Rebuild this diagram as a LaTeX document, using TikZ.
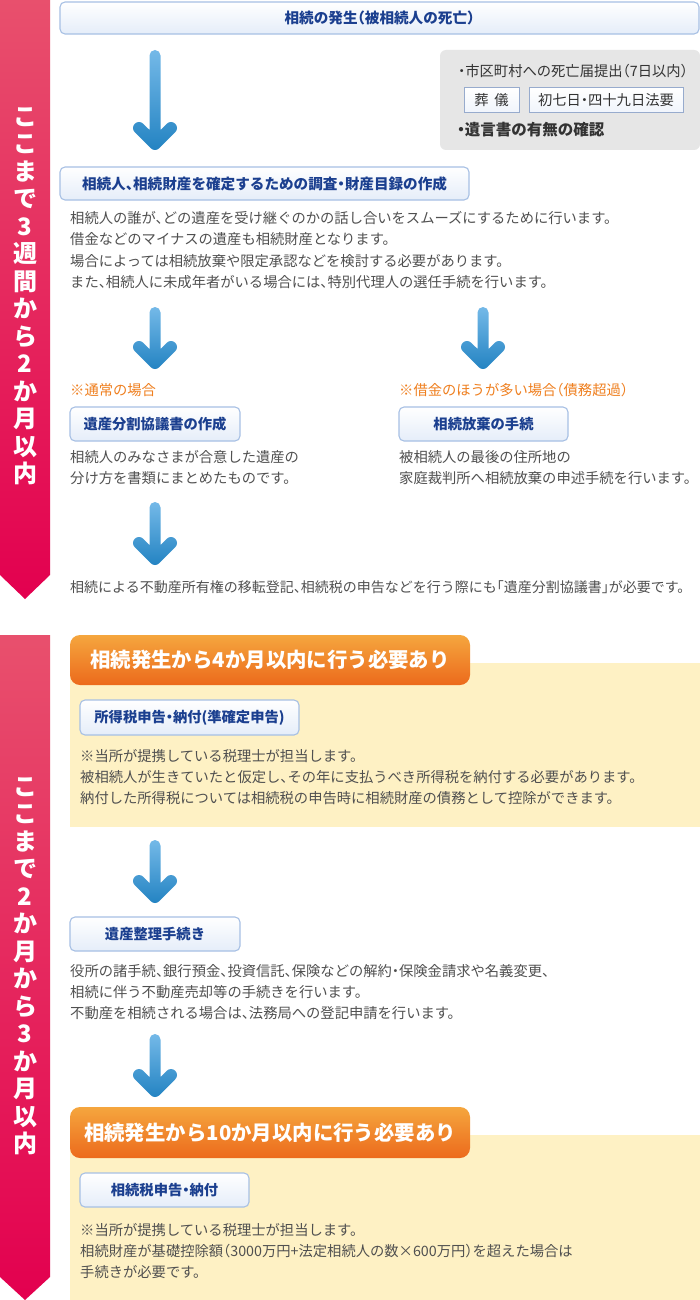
\documentclass[tikz,border=0pt]{standalone}
\usepackage{fontspec}
\setmainfont{Noto Sans CJK JP}[RawFeature=+halt]
\definecolor{bodygray}{HTML}{505050}
\definecolor{titleblue}{HTML}{1B3F8F}
\definecolor{boxborder}{HTML}{A7C0E4}
\definecolor{boxbottom}{HTML}{E5EDF9}
\definecolor{notegray}{HTML}{E6E6E6}
\definecolor{smallborder}{HTML}{97ABCD}
\definecolor{darktext}{HTML}{333333}
\definecolor{noteorange}{HTML}{EF7F1F}
\definecolor{hdrtop}{HTML}{F5A63E}
\definecolor{hdrbot}{HTML}{EC6A1C}
\definecolor{panelyellow}{HTML}{FEF1C4}
\definecolor{bantop}{HTML}{E8506D}
\definecolor{banbot}{HTML}{E3004F}
\definecolor{arrtop}{HTML}{74B9E8}
\definecolor{arrbot}{HTML}{2383C2}
\newcommand\bluearrow[3]{%
  \path[top color=arrtop,bottom color=arrbot]
    ({#1-5.5},{#2+5.5}) arc[start angle=180,end angle=360,radius=5.5]
    -- ({#1+5.5},{#3-20}) -- ({#1+11.757},{#3-26.243})
    arc[start angle=225,end angle=405,radius=6]
    -- ({#1+4.243},{#3-1.757})
    arc[start angle=45,end angle=135,radius=6]
    -- ({#1-20.243},{#3-17.757})
    arc[start angle=135,end angle=315,radius=6]
    -- ({#1-5.5},{#3-20}) -- cycle;}
\tikzset{
  titlebox/.style={draw=boxborder, line width=1.1pt, rounded corners=5pt,
    top color=white, bottom color=boxbottom, inner sep=0pt,
    font=\fontsize{14.3}{17}\selectfont\bfseries, text=titleblue},
  smallbox/.style={draw=smallborder, line width=1pt, top color=white,
    bottom color=boxbottom!60, inner sep=0pt, minimum height=25,
    font=\fontsize{14.3}{17}\selectfont, text=darktext},
  bodytext/.style={anchor=base west, inner sep=0pt, align=left,
    font=\fontsize{14.3}{21.2}\selectfont, text=bodygray},
  notetext/.style={anchor=base west, inner sep=0pt,
    font=\fontsize{14.3}{17}\selectfont, text=noteorange},
  graytext/.style={anchor=base west, inner sep=0pt,
    font=\fontsize{14.3}{17}\selectfont, text=darktext},
  header/.style={rounded corners=10pt, top color=hdrtop, bottom color=hdrbot,
    minimum width=400, minimum height=50, inner sep=0pt,
    font=\fontsize{20.4}{24}\selectfont\bfseries, text=white},
  bannertext/.style={inner sep=0pt, align=center, text=white,
    font=\fontsize{24}{27.5}\selectfont\bfseries},
}
\begin{document}
\begin{tikzpicture}[x=1pt,y=-1pt]
\path[fill=white,use as bounding box] (0,0) rectangle (700,1300);

% left banners
\path[top color=bantop,bottom color=banbot] (0,0) -- (50,0) -- (50,575) -- (25,599) -- (0,575) -- cycle;
\path[top color=bantop,bottom color=banbot] (0,635) -- (50,635) -- (50,1277) -- (25,1300) -- (0,1277) -- cycle;
\node[bannertext] (ban1) at (25,296) {こ\\こ\\ま\\で\\3\\週\\間\\か\\ら\\2\\か\\月\\以\\内};
\node[bannertext] (ban2) at (25,966) {こ\\こ\\ま\\で\\2\\か\\月\\か\\ら\\3\\か\\月\\以\\内};

% section 1
\node[titlebox, minimum width=639, minimum height=32, font=\fontsize{14.6}{17}\selectfont\bfseries] (start) at (379.5,18) {相続の発生（被相続人の死亡）};
\bluearrow{155}{50}{150}

\path[fill=notegray, rounded corners=6pt] (440,50) rectangle (700,150);
\node[graytext] (n1) at (458,77) {・市区町村への死亡届提出（7日以内）};
\node[smallbox, minimum width=55] (soug) at (491.5,100.5) {葬\hspace{0.4em}儀};
\node[smallbox, minimum width=154] (hoyo) at (606,100.5) {初七日・四十九日法要};
\node[graytext, font=\fontsize{15.5}{18}\selectfont\bfseries] (n2) at (457,135.8) {・遺言書の有無の確認};

\node[titlebox, minimum width=409, minimum height=33, font=\fontsize{14.6}{17}\selectfont\bfseries] (survey) at (264.5,183.5) {相続人、相続財産を確定するための調査・財産目録の作成};
\node[bodytext, font=\fontsize{14.3}{21.3}\selectfont] (p1) at (70,287.3) {相続人の誰が、どの遺産を受け継ぐのかの話し合いをスムーズにするために行います。\\借金などのマイナスの遺産も相続財産となります。\\場合によっては相続放棄や限定承認などを検討する必要があります。\\また、相続人に未成年者がいる場合には、特別代理人の選任手続を行います。};

\bluearrow{155}{307}{369}
\bluearrow{483}{307}{369}
\node[notetext] (o1) at (70,395.3) {※通常の場合};
\node[notetext] (o2) at (399,395.3) {※借金のほうが多い場合（債務超過）};
\node[titlebox, minimum width=170, minimum height=34] (bunkatsu) at (155,424) {遺産分割協議書の作成};
\node[titlebox, minimum width=169, minimum height=34] (houki) at (483.5,424) {相続放棄の手続};
\node[bodytext] (p2) at (70,483.3) {相続人のみなさまが合意した遺産の\\分け方を書類にまとめたものです。};
\node[bodytext] (p3) at (399,483.3) {被相続人の最後の住所地の\\家庭裁判所へ相続放棄の申述手続を行います。};
\bluearrow{155}{502}{565}
\node[bodytext, font=\fontsize{14}{21}\selectfont] (p4) at (70,592.3) {相続による不動産所有権の移転登記、相続税の申告などを行う際にも「遺産分割協議書」が必要です。};

% section 2
\path[fill=panelyellow] (70,663) rectangle (700,827);
\node[header] (h1) at (270,660) {相続発生から4か月以内に行う必要あり};
\node[titlebox, minimum width=219, minimum height=35] (shotoku) at (189.5,717.5) {所得税申告・納付(準確定申告)};
\node[bodytext, font=\fontsize{14.3}{20.7}\selectfont] (p5) at (80,803.3) {※当所が提携している税理士が担当します。\\被相続人が生きていたと仮定し、その年に支払うべき所得税を納付する必要があります。\\納付した所得税については相続税の申告時に相続財産の債務として控除ができます。};

\bluearrow{155}{840}{903}
\node[titlebox, minimum width=170, minimum height=34] (seiri) at (155,934) {遺産整理手続き};
\node[bodytext, font=\fontsize{14.3}{20.7}\selectfont] (p6) at (70,1018.3) {役所の諸手続、銀行預金、投資信託、保険などの解約・保険金請求や名義変更、\\相続に伴う不動産売却等の手続きを行います。\\不動産を相続される場合は、法務局への登記申請を行います。};
\bluearrow{155}{1034}{1097}

\path[fill=panelyellow] (70,1135) rectangle (700,1300);
\node[header, minimum height=51] (h2) at (270,1132.5) {相続発生から10か月以内に行う必要あり};
\node[titlebox, minimum width=169, minimum height=34] (souzoku) at (164.5,1190) {相続税申告・納付};
\node[bodytext, font=\fontsize{14.3}{20.7}\selectfont] (p7) at (80,1277.3) {※当所が提携している税理士が担当します。\\相続財産が基礎控除額（3000万円+法定相続人の数×600万円）を超えた場合は\\手続きが必要です。};
\end{tikzpicture}
\end{document}
